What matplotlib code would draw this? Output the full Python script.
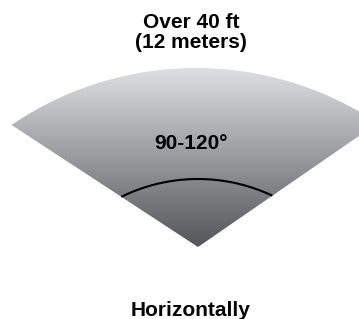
import numpy as np
import matplotlib
matplotlib.use("Agg")
import matplotlib.pyplot as plt
from matplotlib.path import Path
from matplotlib.patches import PathPatch

# chart content
top_lines = ["Over 40 ft", "(12 meters)"]
angle_label = "90-120°"
bottom_label = "Horizontally"
left_half_deg = 56.8      # drawn opening, left of vertical
right_half_deg = 55.4     # drawn opening, right of vertical

W, H = 359, 319
apex = np.array([198.0, 247.0])
outer_center, outer_r = np.array([196.0, 395.0]), 327.0
inner_center, inner_r = np.array([198.0, 353.0]), 174.0


def side_dir(deg, sign):
    a = np.radians(deg)
    return np.array([sign * np.sin(a), -np.cos(a)])


def hit(center, r, d):
    # distance along d from the apex to the circle
    p = apex - center
    b = d @ p
    return -b + np.sqrt(b * b - (p @ p - r * r))


def arc_points(center, r, d_left, d_right, n=200):
    a = apex + hit(center, r, d_left) * d_left
    b = apex + hit(center, r, d_right) * d_right
    ang_a = np.arctan2(a[1] - center[1], a[0] - center[0])
    ang_b = np.arctan2(b[1] - center[1], b[0] - center[0])
    t = np.linspace(ang_a, ang_b, n)
    return np.column_stack([center[0] + r * np.cos(t), center[1] + r * np.sin(t)])


left_dir = side_dir(left_half_deg, -1)
right_dir = side_dir(right_half_deg, 1)

fig = plt.figure(figsize=(W / 100, H / 100), dpi=100)
ax = fig.add_axes([0, 0, 1, 1])
ax.set_xlim(0, W)
ax.set_ylim(H, 0)
ax.axis("off")

# wedge outline
outer = arc_points(outer_center, outer_r, left_dir, right_dir)
verts = np.vstack([apex, outer, apex])
wedge = PathPatch(Path(verts, closed=True), facecolor="none", edgecolor="none")
ax.add_patch(wedge)

# vertical grey gradient clipped to the wedge
ys = np.linspace(0, 1, 256)[:, None]
top_c = np.array([222, 223, 226]) / 255
bot_c = np.array([84, 85, 89]) / 255
grad = top_c + (bot_c - top_c) * ys
img = np.repeat(grad[:, None, :], 2, axis=1).reshape(256, 2, 3)
y_top = outer[:, 1].min()
im = ax.imshow(img, extent=[0, W, apex[1], y_top], aspect="auto",
               interpolation="bilinear", zorder=1)
im.set_clip_path(wedge)

# angle marker arc
inner = arc_points(inner_center, inner_r, left_dir, right_dir)
ax.plot(inner[:, 0], inner[:, 1], color="black", lw=1.5, zorder=2,
        solid_capstyle="butt")

font = dict(family=["Liberation Sans", "DejaVu Sans"], weight="bold",
            fontsize=15, color="black", ha="center", va="baseline")
ax.text(191, 28, top_lines[0], **font)
ax.text(191, 48, top_lines[1], **font)
ax.text(191, 149, angle_label, **font)
ax.text(191, 316, bottom_label, **font)

fig.savefig("out.png", dpi=100)
